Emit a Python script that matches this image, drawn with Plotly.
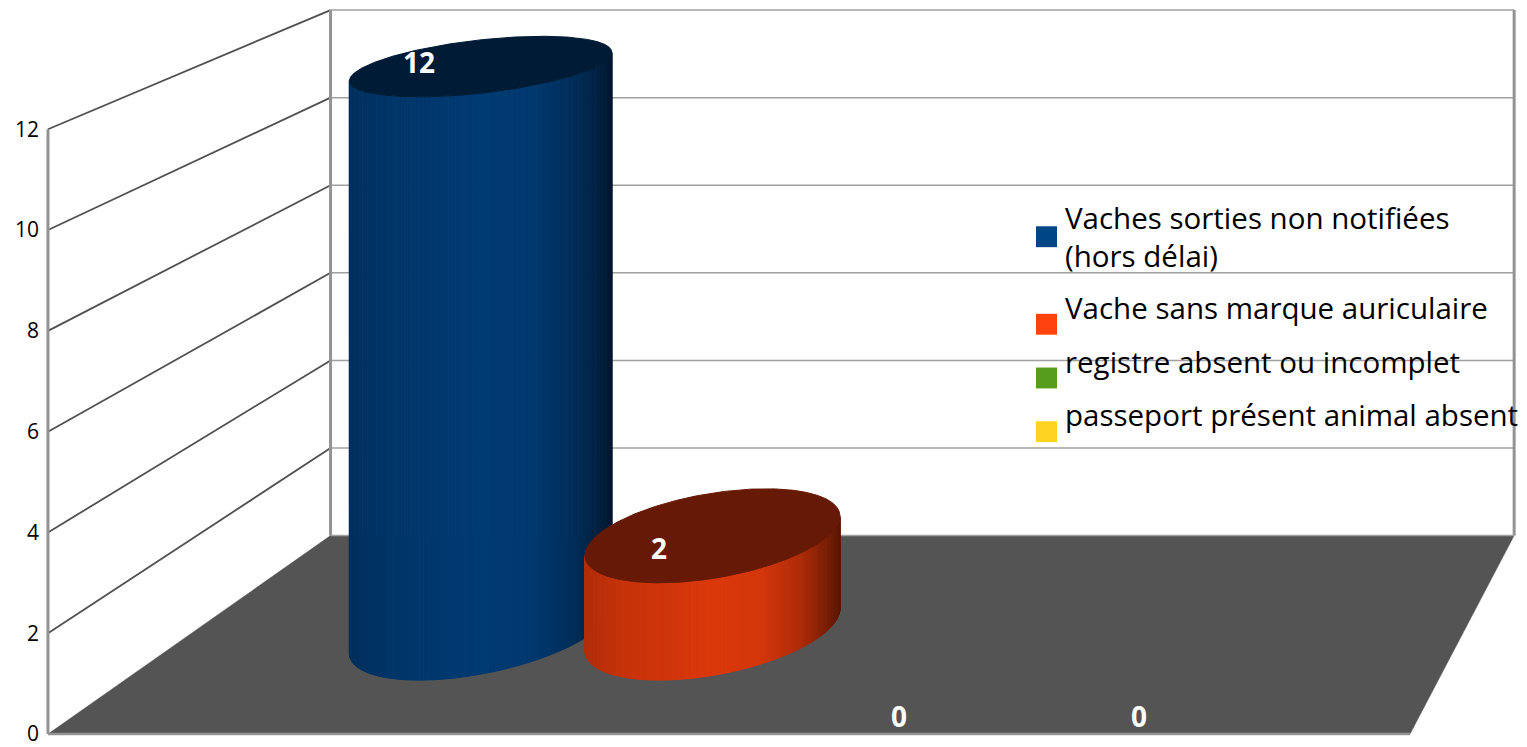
import numpy as np
import plotly.graph_objects as go

# ---------------- data ----------------
categories = [
    "Vaches sorties non notifiées (hors délai)",
    "Vache sans marque auriculaire",
    "registre absent ou incomplet",
    "passeport présent animal absent",
]
legend_labels = [
    "Vaches sorties non notifiées<br>(hors délai)",
    "Vache sans marque auriculaire",
    "registre absent ou incomplet",
    "passeport présent animal absent",
]
values = [12, 2, 0, 0]
colors = ["#004586", "#ff420e", "#579d1c", "#ffd320"]
y_ticks = [0, 2, 4, 6, 8, 10, 12]

# ---------------- 3D projection (oblique perspective) ----------------
W, H = 1527, 747
ML = 44
PX_PER_X = 249.0
PX_PER_Z = 50.67
X0_PX = 353.0       # front-plane pixel of category 0
Z0_PY = 738.0       # front-plane pixel of value 0
VX = (2205 - X0_PX) / PX_PER_X
VZ = (Z0_PY + 785) / PX_PER_Z
C = 1 / 0.869 - 1
X_LEFT, X_RIGHT = -1.225, 4.245
Z_MAX = max(y_ticks)
D_C, RX, RD = 0.50, 0.50, 0.255
FONT = "Open Sans"


def proj(X, D, Z):
    s = 1.0 / (1.0 + C * np.asarray(D, dtype=float))
    return VX + (np.asarray(X, dtype=float) - VX) * s, VZ + (np.asarray(Z, dtype=float) - VZ) * s


def seg(p, q):
    a, b = proj(*p), proj(*q)
    return [float(a[0]), float(b[0])], [float(a[1]), float(b[1])]


def rgb(c, f):
    c = c.lstrip("#")
    r, g, b = int(c[0:2], 16), int(c[2:4], 16), int(c[4:6], 16)
    return "rgb(%d,%d,%d)" % (min(255, r * f), min(255, g * f), min(255, b * f))


shade_u = [0.0, 0.15, 0.5, 0.7, 0.85, 0.95, 1.0]
shade_f = [0.70, 0.78, 0.86, 0.83, 0.68, 0.48, 0.36]
TOP_F = 0.40

fig = go.Figure()


def line(xs, ys, color, width):
    fig.add_trace(go.Scatter(x=xs, y=ys, mode="lines", line=dict(color=color, width=width),
                             hoverinfo="skip", showlegend=False))


# back wall gridlines
for z in y_ticks:
    if z == 0:
        continue
    xs, ys = seg((X_LEFT, 1, z), (X_RIGHT, 1, z))
    line(xs, ys, "#a0a0a0", 1.5)
# left wall gridlines
for z in y_ticks:
    if z == 0:
        continue
    xs, ys = seg((X_LEFT, 0, z), (X_LEFT, 1, z))
    line(xs, ys, "#505050", 1.8)
# vertical edges
for (xe, de) in [(X_LEFT, 0), (X_LEFT, 1), (X_RIGHT, 1)]:
    xs, ys = seg((xe, de, 0), (xe, de, Z_MAX))
    line(xs, ys, "#939393", 3)

# floor
fx, fz = proj([X_LEFT, X_RIGHT, X_RIGHT, X_LEFT, X_LEFT], [0, 0, 1, 1, 0], [0] * 5)
fig.add_trace(go.Scatter(x=fx, y=fz, mode="lines", fill="toself", fillcolor="#545454",
                         line=dict(color="#545454", width=0.5), hoverinfo="skip", showlegend=False))
xs, ys = seg((X_LEFT, 0, 0), (X_RIGHT, 0, 0))
line(xs, ys, "#939393", 2.5)
xs, ys = seg((X_LEFT, 1, 0), (X_RIGHT, 1, 0))
line(xs, ys, "#a0a0a0", 1.5)

# cylinders
n = 1440
t = np.linspace(0, 2 * np.pi, n, endpoint=False)
annotations = []
for i, (v, col) in enumerate(zip(values, colors)):
    cx = i + RX * np.cos(t)
    cd = D_C + RD * np.sin(t)
    bx, bz = proj(cx, cd, np.zeros(n))
    tx, tz = proj(cx, cd, np.full(n, float(v)))
    if v > 0:
        imin, imax = int(np.argmin(bx)), int(np.argmax(bx))
        cnt = (imax - imin) % n
        idx = [(imin + k) % n for k in range(cnt + 1)]
        M = 120
        chunks = np.linspace(0, len(idx) - 1, M + 1).round().astype(int)
        pmin, pmax = bx[imin], bx[imax]
        for a, b in zip(chunks[:-1], chunks[1:]):
            sl = idx[a:b + 1]
            xs = list(tx[sl]) + list(bx[sl][::-1])
            ys = list(tz[sl]) + list(bz[sl][::-1])
            xs.append(xs[0]); ys.append(ys[0])
            u = (np.mean(bx[sl]) - pmin) / (pmax - pmin)
            c = rgb(col, float(np.interp(u, shade_u, shade_f)))
            fig.add_trace(go.Scatter(x=xs, y=ys, mode="lines", fill="toself", fillcolor=c,
                                     line=dict(color=c, width=1), hoverinfo="skip", showlegend=False))
        fig.add_trace(go.Scatter(x=list(tx) + [tx[0]], y=list(tz) + [tz[0]], mode="lines",
                                 fill="toself", fillcolor=rgb(col, TOP_F),
                                 line=dict(color=rgb(col, TOP_F), width=1),
                                 hoverinfo="skip", showlegend=False))
    k = int(np.argmin(tz))
    annotations.append(dict(x=float(tx[k]), y=float(tz[k]), xref="x", yref="y", text=str(v),
                            showarrow=False, yshift=35 if v > 0 else -36,
                            font=dict(family=FONT, size=28, color="white", weight="bold")))


# legend (drawn manually to match layout)
def pxx(px):
    return (px - ML) / (W - ML)


def pyy(py):
    return 1 - py / H


sq_y = [238, 326, 380, 434]
txt_y = [238, 309, 363, 417]
shapes = []
for lab, col, sy, ty in zip(legend_labels, colors, sq_y, txt_y):
    shapes.append(dict(type="rect", xref="paper", yref="paper", x0=pxx(1036), x1=pxx(1057),
                       y0=pyy(sy + 10.5), y1=pyy(sy - 10.5), fillcolor=col, line=dict(width=0)))
    annotations.append(dict(x=pxx(1063), y=pyy(ty), xref="paper", yref="paper", text=lab,
                            showarrow=False, xanchor="left", yanchor="middle", align="left",
                            font=dict(family=FONT, size=29.5, color="black")))

fig.update_layout(
    width=W, height=H,
    margin=dict(l=ML, r=0, t=0, b=0),
    paper_bgcolor="white", plot_bgcolor="white",
    showlegend=False,
    xaxis=dict(range=[(ML - X0_PX) / PX_PER_X, (W - X0_PX) / PX_PER_X], visible=False, fixedrange=True),
    yaxis=dict(range=[-(H - Z0_PY) / PX_PER_Z, Z0_PY / PX_PER_Z], tickvals=y_ticks,
               showgrid=False, zeroline=False, showline=False, ticks="",
               ticklabelstandoff=4, ticklabeloverflow="allow",
               tickfont=dict(family=FONT, size=21, color="black"),
               fixedrange=True),
    shapes=shapes,
    annotations=annotations,
)

fig.write_html("out.html")
